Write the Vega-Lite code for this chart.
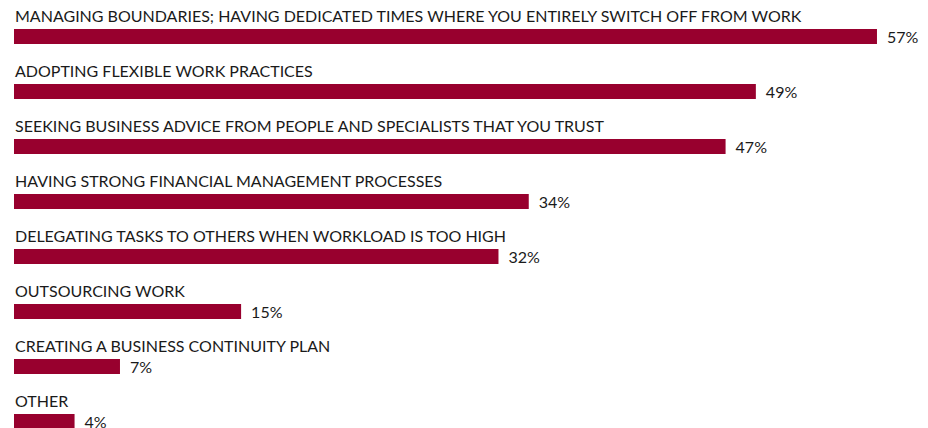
{
  "$schema": "https://vega.github.io/schema/vega-lite/v6.json",
  "autosize": "none",
  "padding": {"left": 14, "top": 9, "right": 0, "bottom": 0},
  "width": 914,
  "height": {"step": 55},
  "background": "white",
  "config": {"view": {"stroke": null}},
  "data": {"values": [
    {"label": "MANAGING BOUNDARIES; HAVING DEDICATED TIMES WHERE YOU ENTIRELY SWITCH OFF FROM WORK", "value": 0.57},
    {"label": "ADOPTING FLEXIBLE WORK PRACTICES", "value": 0.49},
    {"label": "SEEKING BUSINESS ADVICE FROM PEOPLE AND SPECIALISTS THAT YOU TRUST", "value": 0.47},
    {"label": "HAVING STRONG FINANCIAL MANAGEMENT PROCESSES", "value": 0.34},
    {"label": "DELEGATING TASKS TO OTHERS WHEN WORKLOAD IS TOO HIGH", "value": 0.32},
    {"label": "OUTSOURCING WORK", "value": 0.15},
    {"label": "CREATING A BUSINESS CONTINUITY PLAN", "value": 0.07},
    {"label": "OTHER", "value": 0.04}
  ]},
  "encoding": {
    "y": {"field": "label", "type": "nominal", "sort": null, "axis": null,
          "scale": {"paddingInner": 0, "paddingOuter": 0}}
  },
  "layer": [
    {
      "mark": {"type": "bar", "color": "#98002e", "height": 15},
      "encoding": {
        "x": {"field": "value", "type": "quantitative", "axis": null,
              "scale": {"domain": [0, 0.6037], "nice": false, "zero": true}}
      }
    },
    {
      "mark": {"type": "text", "align": "left", "baseline": "alphabetic", "dy": -14.5, "dx": 1,
               "font": "Lato", "fontSize": 16, "color": "#1a1a1a"},
      "encoding": {
        "x": {"datum": 0},
        "text": {"field": "label"}
      }
    },
    {
      "mark": {"type": "text", "align": "left", "baseline": "middle", "dy": 1.5, "dx": 10,
               "font": "Lato", "fontSize": 16, "color": "#1a1a1a"},
      "encoding": {
        "x": {"field": "value", "type": "quantitative"},
        "text": {"field": "value", "type": "quantitative", "format": ".0%"}
      }
    }
  ]
}
